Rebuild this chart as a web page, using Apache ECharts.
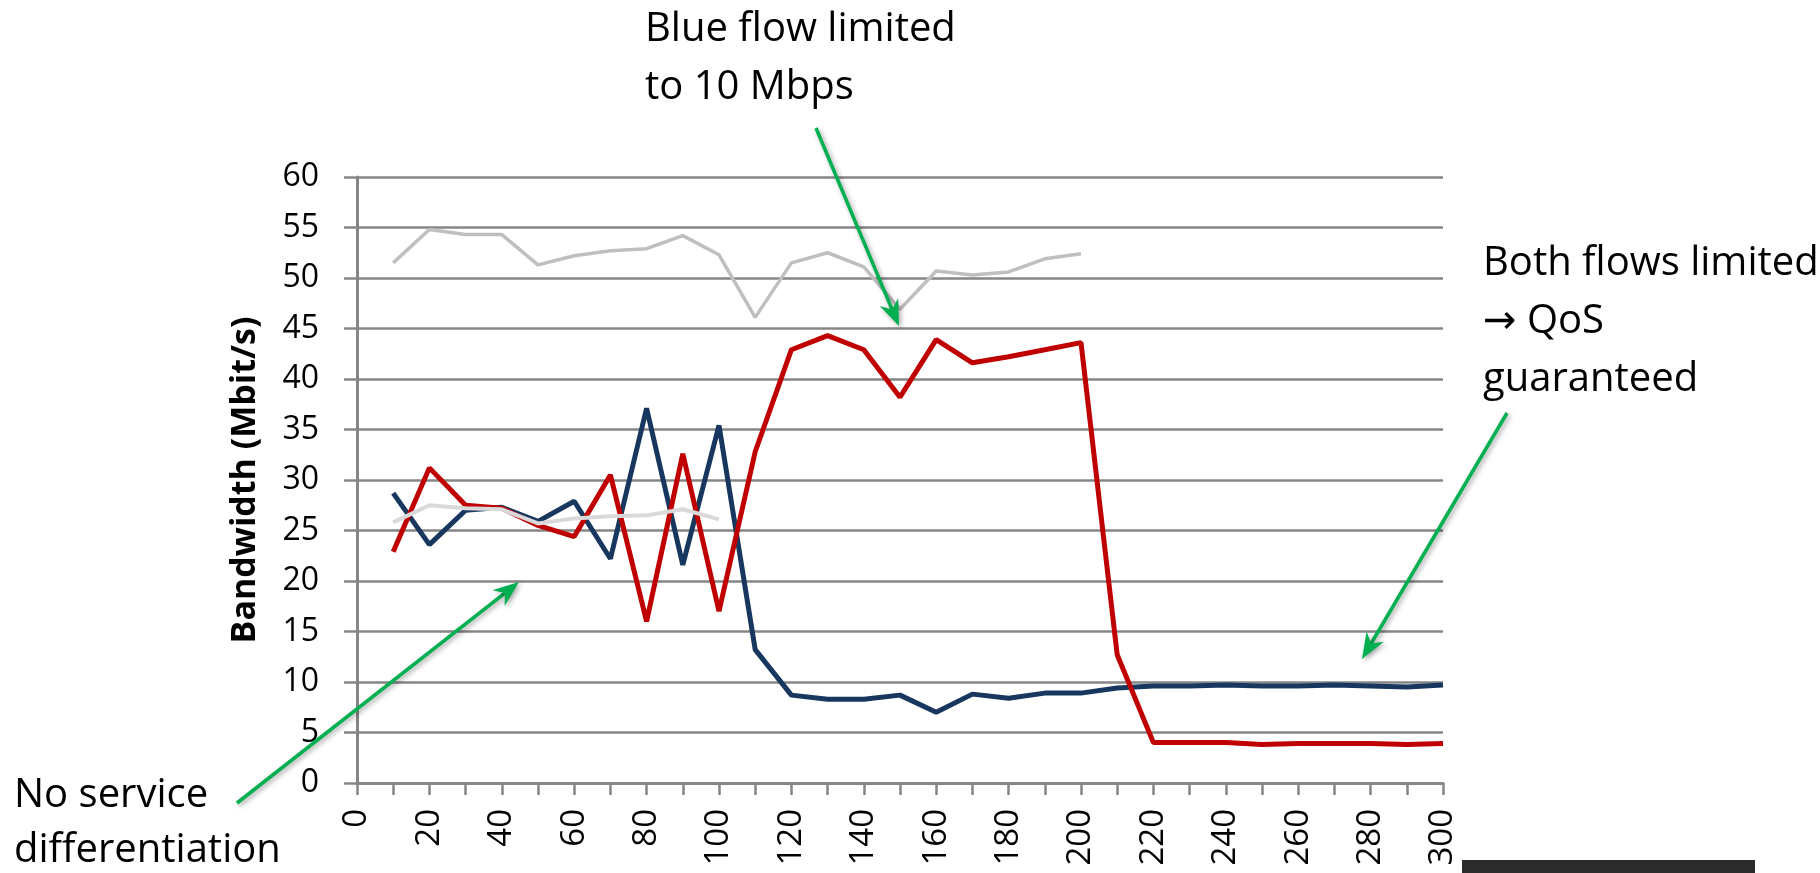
<!DOCTYPE html>
<html>
<head>
<meta charset="utf-8">
<script src="https://cdn.jsdelivr.net/npm/echarts@6/dist/echarts.min.js"></script>
<style>
html,body{margin:0;padding:0;background:#fff;}
#c{width:1820px;height:873px;}
</style>
</head>
<body>
<div id="c"></div>
<script>
// ---- data ----
const timeSec = [10,20,30,40,50,60,70,80,90,100,110,120,130,140,150,160,170,180,190,200,210,220,230,240,250,260,270,280,290,300];
const blueFlow = [28.7,23.6,27.0,27.3,25.9,27.9,22.2,37.1,21.6,35.4,13.2,8.7,8.3,8.3,8.7,7.0,8.8,8.4,8.9,8.9,9.4,9.6,9.6,9.7,9.6,9.6,9.7,9.6,9.5,9.7];
const redFlow = [22.9,31.2,27.5,27.2,25.5,24.4,30.5,16.0,32.6,17.0,32.8,42.9,44.3,42.9,38.2,43.9,41.6,42.2,42.9,43.6,12.7,4.0,4.0,4.0,3.8,3.9,3.9,3.9,3.8,3.9];
const grayUpper = [51.5,54.8,54.3,54.3,51.3,52.2,52.7,52.9,54.2,52.3,46.1,51.5,52.5,51.1,46.9,50.7,50.3,50.6,51.9,52.4];
const grayLower = [25.8,27.5,27.2,27.1,25.7,26.2,26.4,26.5,27.1,26.1];
const yAxisTitle = 'Bandwidth (Mbit/s)';
const xLabelStep = 20;

const notes = [
  {text: 'Blue flow limited\nto 10 Mbps', x: 645, y: 1, lh: 58},
  {text: 'Both flows limited\n\u2192 QoS\nguaranteed', x: 1483, y: 235, lh: 58},
  {text: 'No service\ndifferentiation', x: 14, y: 768, lh: 55}
];
const arrows = [
  {from: [816,128], to: [899,326]},
  {from: [1507,413], to: [1362,659]},
  {from: [237,803], to: [519,582]}
];

function zip(xs, ys){ return ys.map((v,i)=>[xs[i], v]); }

const GREEN = '#00B050';
function arrowGraphics(a){
  const [x1,y1] = a.from, [x2,y2] = a.to;
  const dx = x2-x1, dy = y2-y1, L = Math.hypot(dx,dy);
  const ux = dx/L, uy = dy/L, px = -uy, py = ux;
  const hl = 26, hw = 10, notch = 18;
  const shadow = {shadowBlur: 5, shadowColor: 'rgba(0,0,0,0.35)', shadowOffsetX: 2, shadowOffsetY: 2};
  const ex = x2 - ux*notch, ey = y2 - uy*notch;
  return [
    {type:'line', shape:{x1:x1,y1:y1,x2:ex,y2:ey}, style:Object.assign({stroke:GREEN, lineWidth:3.5}, shadow), z:10},
    {type:'polygon', shape:{points:[[x2,y2],[x2-ux*hl+px*hw, y2-uy*hl+py*hw],[ex,ey],[x2-ux*hl-px*hw, y2-uy*hl-py*hw]]},
     style:Object.assign({fill:GREEN}, shadow), z:10}
  ];
}

const graphics = [];
notes.forEach(n => graphics.push({
  type:'text', left:n.x, top:n.y, z:10,
  style:{text:n.text, fill:'#000', font:'40px "Open Sans", "DejaVu Sans", sans-serif', lineHeight:n.lh, textAlign:'left', textVerticalAlign:'top'}
}));
arrows.forEach(a => graphics.push(...arrowGraphics(a)));
graphics.push({type:'rect', shape:{x:1462, y:860, width:293, height:13}, style:{fill:'#2B2B2B'}, z:10});

const AX = '#868686';
const chart = echarts.init(document.getElementById('c'), null, {renderer:'canvas'});
chart.setOption({
  animation:false,
  backgroundColor:'#fff',
  grid:{left:357, right:377, top:177, bottom:90, containLabel:false},
  xAxis:{
    type:'value', min:0, max:300, interval:10,
    axisLine:{show:true, onZero:false, lineStyle:{color:AX, width:3}},
    axisTick:{show:true, length:12, lineStyle:{color:AX, width:2.5}},
    splitLine:{show:false},
    axisLabel:{rotate:90, margin:26, color:'#000', fontSize:33, fontFamily:'"Open Sans", sans-serif',
      formatter: v => (v % xLabelStep === 0 ? String(v) : '')}
  },
  yAxis:{
    type:'value', min:0, max:60, interval:5,
    name:yAxisTitle, nameLocation:'middle', nameGap:95,
    nameTextStyle:{color:'#000', fontSize:34, fontWeight:'bold', fontFamily:'"Open Sans", sans-serif'},
    axisLine:{show:true, lineStyle:{color:AX, width:3}},
    axisTick:{show:true, length:13, lineStyle:{color:AX, width:2.5}},
    splitLine:{show:true, lineStyle:{color:AX, width:2.5}},
    axisLabel:{margin:38, color:'#000', fontSize:32, fontFamily:'"Open Sans", sans-serif'}
  },
  series:[
    {type:'line', data:zip(timeSec, blueFlow), symbol:'none', lineStyle:{color:'#17375E', width:5}, z:2},
    {type:'line', data:zip(timeSec, redFlow), symbol:'none', lineStyle:{color:'#C00000', width:5}, z:3},
    {type:'line', data:zip(timeSec, grayUpper), symbol:'none', lineStyle:{color:'#BFBFBF', width:3.5}, z:4},
    {type:'line', data:zip(timeSec, grayLower), symbol:'none', lineStyle:{color:'#D9D9D9', width:4}, z:5}
  ],
  graphic: graphics
});
</script>
</body>
</html>
